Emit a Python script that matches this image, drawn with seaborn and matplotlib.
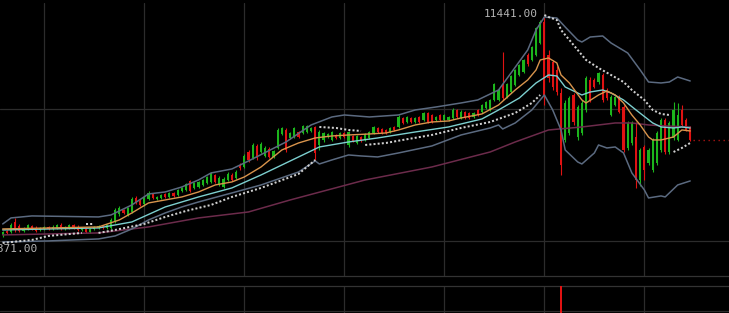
import matplotlib
matplotlib.use("Agg")
import matplotlib.pyplot as plt
import seaborn as sns
import numpy as np

# ---------------- candle data (price) ----------------
opens = [3942, 4080, 4045, 4389, 4252, 4080, 4148, 4252, 4183, 4114,
         4148, 4217, 4148, 4183, 4286, 4148, 4183, 4286, 4217, 4114,
         4148, 4045, 4148, 4183, 4252, 4183, 4183, 4424, 4664, 4802,
         4630, 4733, 5215, 5112, 5008, 5180, 5352, 5180, 5215, 5352,
         5249, 5387, 5318, 5456, 5490, 5800, 5559, 5593, 5662, 5731,
         5765, 6006, 5662, 5593, 5834, 6006, 5903, 6350, 6281, 6797,
         6591, 7004, 6797, 6660, 6900, 6625, 6935, 7416, 7554, 7279,
         7313, 7485, 7451, 7485, 7520, 7657, 7038, 7210, 7313, 7210,
         7382, 7279, 7451, 7038, 7348, 7107, 7313, 7210, 7279, 7451,
         7623, 7588, 7554, 7485, 7657, 7657, 7967, 7829, 7967, 7829,
         8001, 7898, 8139, 8070, 7898, 8070, 7898, 7898, 7967, 8242,
         7967, 8173, 8139, 8001, 8242, 8173, 8311, 8242, 8586, 8586,
         9102, 8689, 8861, 9102, 9446, 9549, 10134, 9962, 10134, 10547,
         11269, 10134, 9893, 9618, 8827, 7210, 7451, 8758, 7313, 7451,
         8242, 9274, 9274, 9205, 9446, 8930, 8070, 8414, 8689, 8345,
         6935, 7107, 7313, 5834, 6969, 6419, 6178, 6419, 6866, 7898,
         6797, 7279, 7210, 8242, 7898, 7623]
highs = [4080, 4114, 4355, 4527, 4320, 4217, 4320, 4286, 4252, 4217,
         4252, 4252, 4286, 4320, 4355, 4252, 4320, 4320, 4286, 4217,
         4183, 4183, 4252, 4286, 4286, 4320, 4527, 4871, 4940, 4836,
         4905, 5249, 5284, 5180, 5284, 5456, 5387, 5284, 5352, 5387,
         5421, 5421, 5524, 5593, 5731, 5834, 5765, 5800, 5868, 5972,
         6109, 6040, 5972, 5937, 6109, 6075, 6178, 6419, 6728, 6866,
         7107, 7072, 7141, 7004, 6969, 6866, 7623, 7657, 7623, 7485,
         7657, 7520, 7726, 7726, 7657, 7692, 7554, 7485, 7451, 7520,
         7416, 7485, 7485, 7520, 7382, 7382, 7348, 7451, 7520, 7692,
         7657, 7623, 7588, 7657, 7692, 8070, 8001, 8036, 8001, 8001,
         8036, 8173, 8173, 8104, 8036, 8104, 8104, 8036, 8311, 8276,
         8242, 8208, 8173, 8173, 8276, 8448, 8552, 8620, 9171, 8999,
         10237, 9171, 9446, 9652, 9824, 9996, 10203, 10444, 11097, 11338,
         11441, 10306, 9962, 9756, 8999, 8586, 8724, 8827, 8414, 8586,
         9412, 9377, 9343, 9549, 9515, 8999, 8758, 8724, 8758, 8414,
         7864, 7864, 7829, 6935, 7038, 6935, 7279, 7520, 7967, 7967,
         7864, 8517, 8483, 8414, 7967, 7692]
lows = [3871, 3976, 4011, 4045, 4045, 4045, 4114, 4114, 4045, 4080,
        4114, 4114, 4114, 4148, 4114, 4114, 4148, 4148, 4080, 4080,
        4011, 4011, 4114, 4148, 4148, 4148, 4148, 4355, 4596, 4664,
        4596, 4699, 5008, 4940, 4940, 5146, 5180, 5146, 5180, 5215,
        5215, 5249, 5284, 5421, 5456, 5421, 5524, 5559, 5628, 5696,
        5731, 5731, 5628, 5559, 5800, 5800, 5868, 6178, 6247, 6453,
        6556, 6522, 6763, 6625, 6591, 6591, 6900, 7382, 6797, 7244,
        7279, 7279, 7416, 7451, 7485, 6522, 6866, 7141, 7279, 7176,
        7244, 7244, 7279, 6969, 7141, 7072, 7141, 7176, 7244, 7416,
        7451, 7416, 7416, 7451, 7520, 7623, 7760, 7795, 7795, 7795,
        7795, 7864, 7795, 7795, 7864, 7864, 7864, 7864, 7932, 7967,
        7932, 7932, 7932, 7967, 8036, 8139, 8276, 8208, 8552, 8552,
        8586, 8655, 8827, 9068, 9412, 9515, 9756, 9928, 10100, 10512,
        8414, 9205, 8930, 8758, 6006, 7141, 7382, 7726, 7210, 7382,
        8173, 8517, 8999, 9136, 8517, 8586, 8036, 8380, 8139, 6797,
        6866, 7038, 5559, 5628, 5834, 6350, 6109, 6350, 6797, 6728,
        6728, 7210, 7176, 7657, 7520, 7176]
closes = [4045, 4011, 4286, 4114, 4080, 4183, 4286, 4148, 4080, 4183,
          4217, 4148, 4217, 4286, 4148, 4217, 4286, 4183, 4114, 4183,
          4045, 4148, 4217, 4252, 4183, 4286, 4458, 4802, 4871, 4699,
          4871, 5180, 5043, 4974, 5215, 5387, 5215, 5249, 5318, 5249,
          5387, 5284, 5490, 5559, 5696, 5456, 5731, 5765, 5834, 5937,
          6040, 5765, 5903, 5868, 6040, 5834, 6109, 6247, 6660, 6522,
          7038, 6591, 7072, 6935, 6625, 6832, 7554, 7623, 6866, 7451,
          7623, 7313, 7692, 7692, 7623, 6763, 7485, 7451, 7416, 7485,
          7279, 7451, 7313, 7485, 7176, 7348, 7176, 7416, 7485, 7657,
          7485, 7451, 7451, 7623, 7554, 8001, 7795, 8001, 7829, 7967,
          7829, 8139, 7829, 7829, 8001, 7898, 8070, 8001, 8242, 8001,
          8173, 7967, 7967, 8139, 8070, 8414, 8517, 8586, 9136, 8930,
          8655, 9136, 9412, 9618, 9790, 9962, 9824, 10409, 11063, 11269,
          8758, 9343, 9033, 8861, 6350, 8483, 8655, 7829, 8345, 8483,
          9343, 8586, 9033, 9515, 8586, 8655, 8689, 8689, 8173, 6866,
          7795, 7795, 5834, 6866, 6178, 6866, 7210, 7451, 7898, 6797,
          7795, 8242, 8070, 7726, 7554, 7210]

# ---------------- indicator lines (candle index, price) ----------------
bb_upper_idx = [0, 2, 7, 23, 26, 31, 35, 39, 43, 47, 50, 55, 59, 68, 74, 79, 82, 88, 95, 99,
                104, 110, 114, 119, 122, 126, 128, 130, 133, 135, 138, 139, 141, 144, 146,
                150, 153, 155, 158, 160, 162, 165]
bb_upper = [4320, 4527, 4596, 4561, 4630, 4974, 5352, 5421, 5593, 5834, 6075, 6212, 6488, 7141,
            7726, 8001, 8070, 8001, 8070, 8242, 8345, 8483, 8586, 8930, 9515, 10306, 10994,
            11441, 11407, 11097, 10650, 10581, 10753, 10788, 10547, 10203, 9618, 9205, 9171,
            9205, 9377, 9240]
bb_lower_idx = [0, 11, 23, 27, 31, 35, 39, 43, 47, 55, 62, 71, 75, 76, 79, 83, 86, 90, 95, 103,
                110, 117, 119, 120, 123, 127, 130, 132, 134, 135, 138, 139, 142, 143, 145, 147,
                149, 151, 154, 155, 158, 159, 162, 165]
bb_lower = [3701, 3736, 3804, 3908, 4148, 4458, 4699, 4905, 5077, 5387, 5662, 6109, 6488, 6384,
            6522, 6694, 6660, 6625, 6763, 7004, 7382, 7623, 7726, 7588, 7795, 8242, 8758, 8242,
            7554, 6866, 6453, 6384, 6763, 7038, 6935, 6969, 6763, 6075, 5490, 5215, 5284, 5249,
            5662, 5800]
mid_idx = [0, 23, 31, 39, 47, 55, 62, 71, 76, 83, 90, 99, 107, 115, 119, 124, 128, 131, 133, 135,
           139, 141, 144, 146, 149, 152, 156, 158, 161, 163, 165]
mid_line = [4114, 4183, 4389, 4905, 5249, 5559, 6006, 6625, 6969, 7141, 7279, 7485, 7657, 7932,
            8242, 8655, 9171, 9446, 9412, 9033, 8758, 8861, 8930, 8827, 8586, 8242, 7795, 7657,
            7623, 7657, 7623]
fast_idx = [0, 23, 28, 31, 35, 39, 43, 47, 51, 55, 58, 62, 67, 71, 75, 79, 83, 88, 92, 95, 99,
            103, 107, 110, 115, 119, 123, 126, 128, 129, 131, 133, 134, 136, 139, 140, 143, 145,
            147, 149, 151, 153, 155, 156, 158, 159, 161, 163, 165]
fast_line = [4148, 4217, 4458, 4699, 5043, 5146, 5249, 5421, 5662, 5765, 5937, 6281, 6866, 7107,
             7279, 7348, 7382, 7416, 7451, 7554, 7726, 7829, 7864, 7967, 8104, 8414, 8930, 9274,
             9618, 9962, 10031, 9859, 9446, 9171, 8586, 8483, 8758, 8896, 8758, 8483, 8070, 7726,
             7313, 7210, 7210, 7244, 7313, 7554, 7520]
slow_idx = [0, 11, 23, 35, 47, 59, 69, 87, 103, 117, 123, 131, 139, 147, 151, 155, 159, 165]
slow_line = [3942, 3976, 4011, 4217, 4527, 4733, 5146, 5834, 6281, 6797, 7141, 7554, 7657, 7795,
             7795, 7726, 7692, 7657]
sar_idx = [0, 7, 11, 19,
           20, 22,
           23, 27, 34, 39, 44, 50, 55, 62, 71, 75,
           76, 80, 83, 86,
           87, 92, 96, 103, 110, 117, 123, 127, 129,
           130, 131, 133, 134, 136, 138, 140, 143, 146, 149, 151, 154, 156, 158, 160,
           161, 163, 165]
sar_val = [3667, 3770, 3908, 4011,
           4320, 4320,
           4011, 4114, 4320, 4561, 4768, 4974, 5249, 5559, 6040, 6522,
           7657, 7623, 7554, 7520,
           7038, 7107, 7210, 7382, 7623, 7829, 8139, 8483, 8758,
           11510, 11441, 11338, 10994, 10650, 10306, 9962, 9687, 9446, 9205, 8930, 8586, 8242,
           8104, 8070,
           6797, 6935, 7107]
sar_seg = [1] * 4 + [2] * 2 + [3] * 10 + [4] * 4 + [5] * 9 + [6] * 15 + [7] * 3
vol_idx = [134]
vol_val = [1.0]

# ---------------- style ----------------
sns.set_theme(style="dark")
plt.rcParams["font.family"] = ["DejaVu Sans Mono", "DejaVu Sans"]

GREEN = "#1cb51c"
RED = "#e01212"
ORANGE = "#d9944c"
CYAN = "#7ccfcf"
BAND = "#5b6a80"
PURPLE = "#6c2b4b"
DOTS = "#cfcfcf"
GRID = "#2c2c2c"
TEXT = "#b4b4b4"

W, H = 729, 313
fig = plt.figure(figsize=(W / 100, H / 100), dpi=100, facecolor="black")
PX = 100 / 24.0   # pixels per candle
X0 = 2.7          # pixel position of first candle
xlim = ((0 - X0) / PX, (W - X0) / PX)
vgrid = list(range(10, len(closes), 24))

# main panel
ax = fig.add_axes([0, (H - 276) / H, 1, (276 - 3) / H])
ax.set_facecolor("black")
ax.set_xlim(*xlim)
ax.set_ylim(2529, 11923)
ax.set_xticks(vgrid)
ax.set_yticks([3736, 8276])
ax.grid(True, color=GRID, linewidth=0.9)
ax.tick_params(length=0, labelbottom=False, labelleft=False)
for s in ["top", "left", "right"]:
    ax.spines[s].set_visible(False)
ax.spines["bottom"].set_color("#333333")
ax.spines["bottom"].set_linewidth(0.9)

idx = np.arange(len(closes))
o = np.array(opens, float)
c = np.array(closes, float)
hi = np.array(highs, float)
lo = np.array(lows, float)
cols = np.where(c >= o, GREEN, RED)
ax.vlines(idx, lo, hi, colors=cols, linewidth=0.8, zorder=3)
ax.bar(idx, np.maximum(np.abs(c - o), 30), bottom=np.minimum(o, c), width=0.5,
       color=cols, linewidth=0, zorder=3)

sns.lineplot(x=slow_idx, y=slow_line, ax=ax, color=PURPLE, linewidth=1.1, zorder=4)
sns.lineplot(x=bb_upper_idx, y=bb_upper, ax=ax, color=BAND, linewidth=1.1, zorder=4)
sns.lineplot(x=bb_lower_idx, y=bb_lower, ax=ax, color=BAND, linewidth=1.1, zorder=4)
sns.lineplot(x=mid_idx, y=mid_line, ax=ax, color=CYAN, linewidth=1.0, zorder=5)
sns.lineplot(x=fast_idx, y=fast_line, ax=ax, color=ORANGE, linewidth=1.0, zorder=5)

sar_idx_a = np.array(sar_idx)
sar_val_a = np.array(sar_val)
sar_seg_a = np.array(sar_seg)
for sgm in np.unique(sar_seg_a):
    m = sar_seg_a == sgm
    ax.plot(sar_idx_a[m], sar_val_a[m], color=DOTS, linewidth=1.45,
            linestyle=(0, (1, 1.07)), dash_capstyle="butt", zorder=6)

# last price marker line
ax.plot([idx[-1] + 0.7, xlim[1]], [closes[-1], closes[-1]], color="#a81414",
        linewidth=1.0, linestyle=(0, (1, 2.6)), zorder=4)

imax = int(np.argmax(highs))
imin = int(np.argmin(lows))
ax.annotate(f"{highs[imax]:.2f}", xy=(imax, highs[imax]), xytext=(-4.5, 2.5),
            textcoords="offset points", ha="right", va="center", color=TEXT,
            fontsize=8, family="DejaVu Sans Mono", zorder=7)
ax.annotate(f"{lows[imin]:.2f}", xy=(imin, lows[imin]), xytext=(24.7, -8.6),
            textcoords="offset points", ha="right", va="center", color=TEXT,
            fontsize=8, family="DejaVu Sans Mono", zorder=7)

# volume sub panel
ax2 = fig.add_axes([0, (H - 336) / H, 1, 50 / H])
ax2.set_facecolor("black")
ax2.set_xlim(*xlim)
ax2.set_ylim(0, 0.95)
ax2.set_xticks(vgrid)
ax2.set_yticks([0.475])
ax2.grid(True, color=GRID, linewidth=0.9)
ax2.tick_params(length=0, labelbottom=False, labelleft=False)
for s in ["bottom", "left", "right"]:
    ax2.spines[s].set_visible(False)
ax2.spines["top"].set_color("#333333")
ax2.spines["top"].set_linewidth(0.9)
ax2.bar(vol_idx, vol_val, width=0.45, color=RED, linewidth=0, zorder=3)

fig.savefig("out.png", dpi=100, facecolor="black")
